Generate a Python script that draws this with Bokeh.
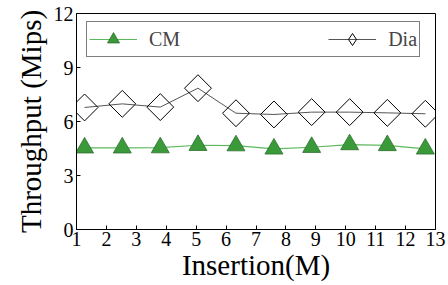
import math
from bokeh.plotting import figure
from bokeh.models import Legend, LegendItem, FixedTicker, Range1d
from bokeh.embed import file_html
from bokeh.resources import INLINE

# Data
insertion = [1.27, 2.53, 3.8, 5.06, 6.33, 7.6, 8.86, 10.13, 11.39, 12.66]
cm = [4.54, 4.54, 4.55, 4.68, 4.66, 4.48, 4.57, 4.72, 4.67, 4.48]
dia = [6.78, 6.98, 6.8, 7.85, 6.46, 6.39, 6.52, 6.52, 6.48, 6.43]
x_ticks = list(range(1, 14))
y_ticks = [0, 3, 6, 9, 12]

FONT = "Liberation Serif"

p = figure(width=448, height=285, output_backend="svg", toolbar_location=None,
           x_range=Range1d(1, 13), y_range=Range1d(0, 12),
           min_border_left=76, min_border_right=13, min_border_top=13, min_border_bottom=56)

p.xgrid.visible = False
p.ygrid.visible = False
p.outline_line_color = "black"
p.outline_line_width = 1
p.background_fill_color = "white"
p.border_fill_color = "white"

for ax in (p.xaxis[0], p.yaxis[0]):
    ax.major_tick_in = 4
    ax.major_tick_out = 0
    ax.minor_tick_line_color = None
    ax.axis_line_color = "black"
    ax.axis_line_width = 1
    ax.major_tick_line_color = "black"
    ax.major_label_text_font = FONT
    ax.major_label_text_font_size = "20px"
    ax.major_label_text_color = "black"
    ax.axis_label_text_font = FONT
    ax.axis_label_text_font_size = "29px"
    ax.axis_label_text_font_style = "normal"
    ax.axis_label_text_color = "black"

p.xaxis[0].ticker = FixedTicker(ticks=x_ticks)
p.yaxis[0].ticker = FixedTicker(ticks=y_ticks)
p.xaxis[0].axis_label = "Insertion(M)"
p.yaxis[0].axis_label = "Throughput (Mips)"
p.xaxis[0].major_label_standoff = 2
p.yaxis[0].major_label_standoff = 3
p.xaxis[0].axis_label_standoff = 0
p.yaxis[0].axis_label_standoff = 4

dia_line = p.line(insertion, dia, line_color="#555555", line_width=1)
dia_pts = p.scatter(insertion, dia, marker="square", size=19, angle=math.pi / 4,
                    fill_alpha=0, line_color="black", line_width=1)
cm_line = p.line(insertion, cm, line_color="#5cb85c", line_width=1.2)
cm_pts = p.scatter(insertion, cm, marker="triangle", size=18,
                   fill_color="#3a9a3a", line_color="#2d6e2d", line_width=0.8)
# hidden renderer used only to draw a diamond symbol in the legend
dia_key = p.scatter(insertion, dia, marker="diamond", size=19, fill_alpha=0,
                    line_color="black", line_width=1, visible=False)

legend = Legend(items=[LegendItem(label="CM", renderers=[cm_line, cm_pts]),
                       LegendItem(label="Dia", renderers=[dia_line, dia_key])],
                orientation="horizontal", location=(10, 172), margin=0, padding=2,
                glyph_width=48, glyph_height=30, label_standoff=12, spacing=148,
                label_text_font=FONT, label_text_font_size="20px",
                border_line_color="black", border_line_width=1,
                background_fill_alpha=1, inactive_fill_alpha=0)
p.add_layout(legend, "center")

open("out.html", "w").write(file_html(p, INLINE))
